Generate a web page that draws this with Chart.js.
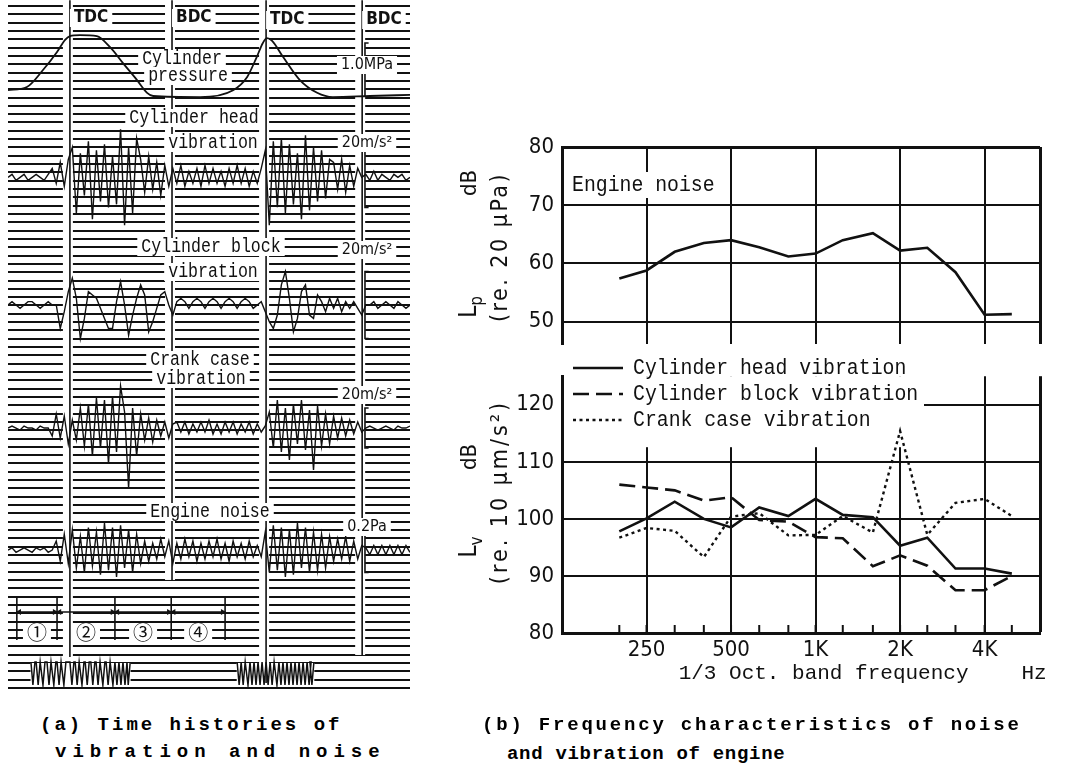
<!DOCTYPE html>
<html>
<head>
<meta charset="utf-8">
<title>Engine noise and vibration</title>
<script src="https://cdn.jsdelivr.net/npm/chart.js@4.4.1/dist/chart.umd.min.js"></script>
<style>
  body { margin: 0; background: #fff; }
  #page { position: relative; width: 1087px; height: 774px; overflow: hidden; background: #fff; }
  canvas { position: absolute; }
  .cap { position: absolute; font-family: "Liberation Mono", "DejaVu Sans Mono", monospace; font-size: 19px; font-weight: bold; line-height: 24px; color: #000; white-space: pre; }
</style>
</head>
<body>
<div id="page">
  <canvas id="history" width="420" height="700" style="left:0px;top:0px"></canvas>
  <canvas id="lp" width="620" height="245" style="left:440px;top:120px"></canvas>
  <canvas id="lv" width="620" height="345" style="left:440px;top:355px"></canvas>
  <div class="cap" style="left:40px;top:713px;letter-spacing:3px">(a) Time histories of</div>
  <div class="cap" style="left:55px;top:740px;letter-spacing:6px">vibration and noise</div>
  <div class="cap" style="left:482px;top:713px;letter-spacing:2.8px">(b) Frequency characteristics of noise</div>
  <div class="cap" style="left:507px;top:742px;letter-spacing:0.7px">and vibration of engine</div>
</div>
<script>
// (b) 1/3 octave band spectra
const bands = [200, 250, 315, 400, 500, 630, 800, 1000, 1250, 1600, 2000, 2500, 3150, 4000, 5000];
const noiseLp = [57.4, 58.8, 62.0, 63.5, 64.0, 62.8, 61.2, 61.7, 64.0, 65.2, 62.2, 62.7, 58.5, 51.2, 51.3];
const headLv = [97.8, 100.1, 103.0, 100.0, 98.5, 102.0, 100.5, 103.5, 100.7, 100.3, 95.3, 96.7, 91.3, 91.3, 90.4];
const blockLv = [106.0, 105.5, 105.0, 103.2, 103.8, 99.8, 99.5, 96.8, 96.6, 91.7, 93.6, 91.8, 87.5, 87.5, 90.0];
const crankLv = [96.7, 98.4, 97.9, 93.3, 100.4, 101.0, 97.1, 97.2, 100.5, 97.6, 115.4, 97.2, 102.8, 103.5, 100.5];
const freqTicks = [250, 500, 1000, 2000, 4000];
const freqTickLabels = ['250', '500', '1K', '2K', '4K'];
const lpTicks = [50, 60, 70, 80];
const lvTicks = [80, 90, 100, 110, 120];

// (a) time histories, sweep 0..100 (one sample per unit for the vibration traces)
const pressT = [0, 4.7, 8.7, 12.2, 14.2, 15.4, 17.9, 22.1, 25.4, 28.6, 32.1, 34.6, 36.1, 47.8, 56.0, 59.5, 61.9, 63.4, 64.4, 65.7, 68.4, 72.6, 76.9, 80.8, 90.0, 100];
const pressMPa = [0.11, 0.17, 0.49, 0.83, 1.06, 1.13, 1.15, 1.13, 0.92, 0.62, 0.30, 0.06, 0.0, -0.02, 0.11, 0.36, 0.74, 1.0, 1.09, 1.04, 0.74, 0.30, 0.06, -0.02, 0.0, 0.02];
const headAcc = [0, 1, -1, 0, 1, -1, 0, 1, 0, -1, 1,
  3, -2, 5, -3, 6,
  10, -12, 8, -6, 12, -14, 9, -8, 11, -10, 7, -9, 16, -16, 10, -12, 13,
  6, -5, 7, -4, 5, -6, 4, -3,
  3, -2, 4, -3, 2, -2, 3, -3, 4, -2, 3, -2, 2, -3, 3, -2, 4, -2, 3, -3, 2, -2, 3,
  9, -16, 12, -10, 13, -12, 11, -9, 8, -14, 14, -11, 10, -8, 9, -7, 6,
  5, -4, 6, -5, 4, -3, 3, 0,
  1, -1, 2, -1, 1, 0, -1, 1, 0, 1, -1, 0];
const blockAcc = [0, 1, 0, -1, 0, 1, 1, 0, -1, 0, 1, 0, 0,
  -7, -2, 4, 8, 2, -10, -4, 4, 3, 2, -1, -4, -7, -7, 1, 7, 0, -9, -3, 2, 6, 3, -8, -5, -1, 3, 4, 0, -3,
  1, 2, 1, -1, 1, 2, 1, -1, 1, 2, 1, -1, 1, 2, 1, -1, 1, 2, 1, -1, 0, 1,
  -2, -5, -7, -3, 6, 10, 2, -8, -4, 4, 6, -3, -4, 3, 1, -2, 2, -1, 2, -2, 1, -1, 1, -1, -3,
  0, 0, 1, -1, 0, 1, 0, -1, 1, 0, -1, 0];
const crankAcc = [0, 1, 0, -1, 1, 0, 0, -1, 1, 0, 0,
  -4, 7, -5, 6, -8, 4, -6,
  10, -9, 12, -14, 15, -10, 14, -18, 16, -12, 21, 8, -30, 10, -14, 7,
  -6, 5, -7, 4, -4, 3, -5, 2,
  3, -2, 3, -3, 2, -2, 3, -2, 4, -3, 2, -3, 3, -2, 3, -3, 2, -2, 3, -3, 2, -2, 1,
  8, -10, 14, -12, 10, -16, 12, -8, 14, -11, 9, -21, 11, -9, 7, -8, 6, -5, 5, -4,
  4, -3, 3, -2,
  0, 1, 0, -1, 0, 1, 0, -1, 1, 0, 0, 1];
const noisePa = [0, 0.01, -0.01, 0, 0.01, 0, -0.01, 0.01, 0, 0.01, -0.01, 0,
  0.04, -0.05, 0.07, -0.06, 0.09, -0.08, 0.06, -0.1, 0.1, -0.07, 0.08, -0.11, 0.12, -0.09, 0.1, -0.12, 0.11, -0.08, 0.09, -0.1, 0.07, -0.06,
  0.04, -0.05, 0.03, -0.04, 0.05, -0.03, 0.04, -0.06, 0.03, -0.04, 0.05, -0.03, 0.04, -0.05, 0.03, -0.04, 0.04, -0.03, 0.05, -0.04, 0.03, -0.05, 0.04, -0.03, 0.03, -0.04, 0.04, -0.03, 0.02, -0.03,
  0.08, -0.1, 0.11, -0.09, 0.1, -0.12, 0.09, -0.11, 0.12, -0.08, 0.1, -0.1, 0.08, -0.09, 0.07, -0.08, 0.06,
  -0.05, 0.05, -0.04, 0.06, -0.05, 0.04, -0.04, 0.02,
  0.01, -0.02, 0.02, -0.02, 0.02, -0.02, 0.02, -0.02, 0.02, -0.02, 0.02, -0.01];
const strokeMarks = [15.4, 40.8, 64.2, 88.1];
const strokeNames = ['TDC', 'BDC', 'TDC', 'BDC'];
const calValues = [1.0, 20, 20, 20, 0.2];
const calLabels = ['1.0MPa', '20m/s²', '20m/s²', '20m/s²', '0.2Pa'];
const phaseEdges = [2.2, 12.2, 26.6, 40.6, 54.0];
const phaseNames = ['①', '②', '③', '④'];
const pulseA = [6.2, 7.5, 8.7, 10.2, 11.4, 12.7, 13.9, 15.9, 17.2, 18.4, 19.7, 21.1, 22.4, 23.6, 24.9, 26.1, 27.1, 28.1, 29.1, 29.9];
const pulseB = [57.5, 58.5, 59.7, 60.7, 61.7, 62.7, 63.7, 64.7, 65.7, 66.9, 67.9, 68.9, 69.9, 70.9, 71.9, 72.9, 73.9, 74.9, 75.6];

const ink = '#111';
const mono = '"Liberation Mono", "DejaVu Sans Mono", monospace';
const narrow = '"Liberation Sans Narrow", "DejaVu Sans Condensed", "Liberation Sans", sans-serif';
Chart.defaults.color = ink;

function drawText(ctx, text, x, y, font, align, sx) {
  ctx.save();
  ctx.font = font;
  ctx.fillStyle = ink;
  ctx.textAlign = align || 'left';
  ctx.textBaseline = 'middle';
  ctx.translate(x, y);
  ctx.scale(sx || 1, 1);
  ctx.fillText(text, 0, 0);
  ctx.restore();
}

function boxText(ctx, text, x, y, font, sx) {
  sx = sx || 1;
  ctx.font = font;
  const w = ctx.measureText(text).width * sx;
  ctx.fillStyle = '#fff';
  ctx.fillRect(x - w / 2 - 4, y - 9, w + 8, 18);
  drawText(ctx, text, x, y, font, 'center', sx);
}

function sideText(ctx, text, x, y, font, spacing) {
  ctx.save();
  ctx.translate(x, y);
  ctx.rotate(-Math.PI / 2);
  ctx.font = font;
  ctx.letterSpacing = spacing || '0px';
  ctx.fillStyle = ink;
  ctx.textAlign = 'center';
  ctx.textBaseline = 'middle';
  ctx.fillText(text, 0, 0);
  ctx.restore();
}

function sideSub(ctx, main, sub, x, y) {
  ctx.save();
  ctx.translate(x, y);
  ctx.rotate(-Math.PI / 2);
  ctx.fillStyle = ink;
  ctx.textBaseline = 'middle';
  ctx.textAlign = 'left';
  ctx.font = '24px ' + narrow;
  const w1 = ctx.measureText(main).width;
  ctx.font = '17px ' + narrow;
  const w2 = ctx.measureText(sub).width;
  const x0 = -(w1 + w2) / 2;
  ctx.font = '24px ' + narrow;
  ctx.fillText(main, x0, 0);
  ctx.font = '17px ' + narrow;
  ctx.fillText(sub, x0 + w1, 8);
  ctx.restore();
}

// ---------- (a) time histories ----------
// trace lanes: baseline row on the ruled paper and rows per unit
const pressBase = 71.18, pressGain = 6.372;
const lanes = [
  {vals: headAcc, base: 61.4, gain: 0.3607},
  {vals: blockAcc, base: 46.05, gain: 0.4028},
  {vals: crankAcc, base: 31.26, gain: 0.2405},
  {vals: noisePa, base: 16.59, gain: 27.05}
];
const markEnds = [3.73, 12.99, 0.6, 3.97];
const calX = 88.8;

const line = (data, extra) => Object.assign({
  data: data, borderColor: ink, borderWidth: 1.4, pointRadius: 0, tension: 0, fill: false
}, extra || {});

const histSets = [];
histSets.push(line(pressT.map((t, i) => ({x: t, y: pressBase + pressMPa[i] * pressGain})),
  {cubicInterpolationMode: 'monotone', borderWidth: 1.8}));
lanes.forEach(l => {
  histSets.push(line(l.vals.map((v, i) => ({x: i, y: l.base + v * l.gain})), {borderWidth: 1.4}));
});
strokeMarks.forEach((m, i) => {
  histSets.push(line([{x: m, y: 82.7}, {x: m, y: markEnds[i]}], {clip: false, borderWidth: 1.6}));
});
// calibration steps
histSets.push(line([
  {x: calX + 0.9, y: pressBase + calValues[0] * pressGain},
  {x: calX, y: pressBase + calValues[0] * pressGain},
  {x: calX, y: pressBase}], {borderWidth: 1.6}));
lanes.forEach((l, i) => {
  const h = calValues[i + 1] / 2 * l.gain;
  histSets.push(line([
    {x: calX + 0.9, y: l.base + h}, {x: calX, y: l.base + h},
    {x: calX, y: l.base - h}, {x: calX + 0.9, y: l.base - h}], {borderWidth: 1.6}));
});
// stroke intervals
phaseEdges.forEach(e => {
  histSets.push(line([{x: e, y: 5.77}, {x: e, y: 10.94}], {borderWidth: 1.6}));
});
phaseNames.forEach((n, i) => {
  histSets.push(line([{x: phaseEdges[i] + 0.6, y: 9.14}, {x: phaseEdges[i + 1] - 0.6, y: 9.14}], {
    borderWidth: 1.4, pointRadius: 3.5, pointStyle: 'triangle', pointRotation: [270, 90],
    pointBackgroundColor: ink, pointBorderWidth: 0
  }));
});
// crank angle marker pulses
const comb = p => {
  const pts = [];
  p.forEach(t => { pts.push({x: t - 0.5, y: 3.13}, {x: t, y: 0.36}, {x: t + 0.5, y: 3.13}); });
  return pts;
};
histSets.push(line(comb(pulseA), {borderWidth: 1.5}));
histSets.push(line(comb(pulseB), {borderWidth: 1.5}));

const histNotes = {
  id: 'histNotes',
  beforeDatasetsDraw(chart) {
    const ctx = chart.ctx;
    const xs = chart.scales.x, ys = chart.scales.y;
    ctx.fillStyle = '#fff';
    // the ruled lines break beside the stroke marker lines
    strokeMarks.forEach((m, i) => {
      const px = xs.getPixelForValue(m);
      ctx.fillRect(px - 7, 0, 10, ys.getPixelForValue(markEnds[i]));
    });
    [pulseA, pulseB].forEach(p => {
      const a = xs.getPixelForValue(p[0] - 0.6), b = xs.getPixelForValue(p[p.length - 1] + 0.6);
      ctx.fillRect(a, 663, b - a, 22);
    });
  },
  afterDatasetsDraw(chart) {
    const ctx = chart.ctx;
    const xs = chart.scales.x;
    const lab = 'bold 17px ' + narrow;
    const tx = '20px ' + mono;
    const sx = 0.83;
    const small = '16px ' + narrow;
    strokeMarks.forEach((m, i) => {
      const px = xs.getPixelForValue(m);
      ctx.font = lab;
      const w = ctx.measureText(strokeNames[i]).width;
      boxText(ctx, strokeNames[i], px + 4 + w / 2, i < 2 ? 18 : 20, lab);
    });
    boxText(ctx, 'Cylinder', 182, 59, tx, sx);
    boxText(ctx, 'pressure', 188, 76, tx, sx);
    boxText(ctx, 'Cylinder head', 194, 118, tx, sx);
    boxText(ctx, 'vibration', 213, 143, tx, sx);
    boxText(ctx, 'Cylinder block', 211, 247, tx, sx);
    boxText(ctx, 'vibration', 213, 272, tx, sx);
    boxText(ctx, 'Crank case', 200, 360, tx, sx);
    boxText(ctx, 'vibration', 201, 379, tx, sx);
    boxText(ctx, 'Engine noise', 210, 512, tx, sx);
    const calY = [65, 143, 250, 395, 527];
    calLabels.forEach((c, i) => boxText(ctx, c, 367, calY[i], small));
    phaseNames.forEach((n, i) => {
      const px = xs.getPixelForValue((phaseEdges[i] + phaseEdges[i + 1]) / 2);
      boxText(ctx, n, px, 632, '20px "Noto Sans CJK JP", sans-serif');
    });
  }
};

new Chart(document.getElementById('history'), {
  type: 'line',
  data: {datasets: histSets},
  options: {
    responsive: false,
    animation: false,
    events: [],
    layout: {padding: {left: 8, right: 10, top: 6, bottom: 12}},
    plugins: {legend: {display: false}, tooltip: {enabled: false}},
    scales: {
      x: {type: 'linear', min: 0, max: 100, display: false},
      y: {
        type: 'linear', min: 0, max: 82,
        afterBuildTicks: a => { a.ticks = Array.from({length: 83}, (_, k) => ({value: k})); },
        afterFit: a => { a.width = 0; },
        ticks: {display: false},
        grid: {color: ink, lineWidth: 1.9, drawTicks: false},
        border: {display: false}
      }
    }
  },
  plugins: [histNotes]
});

// ---------- (b) spectra ----------
const edgeHz = 6300;
const gridW = c => (c.tick && (c.tick.value === edgeHz || c.tick.value === 80) ? 3 : 2);
const tickFont = {family: narrow, size: 22};
const label = '22px ' + mono;

const lpNotes = {
  id: 'lpNotes',
  beforeDatasetsDraw(chart) {
    chart.ctx.fillStyle = '#fff';
    chart.ctx.fillRect(128, 52, 156, 26);
  },
  afterDatasetsDraw(chart) {
    const ctx = chart.ctx;
    drawText(ctx, 'Engine noise', 132, 65, label, 'left', 0.9);
    sideText(ctx, 'dB', 30, 63, '22px ' + narrow);
    sideText(ctx, '(re. 20 μPa)', 61, 127, '23px ' + narrow, '2.5px');
    sideSub(ctx, 'L', 'p', 30, 187);
  }
};

new Chart(document.getElementById('lp'), {
  type: 'line',
  data: {
    datasets: [{
      label: 'Engine noise',
      data: bands.map((f, i) => ({x: f, y: noiseLp[i]})),
      borderColor: ink, borderWidth: 2.6, pointRadius: 0, tension: 0
    }]
  },
  options: {
    responsive: false,
    animation: false,
    events: [],
    layout: {padding: {top: 27, right: 20, bottom: 12, left: 0}},
    plugins: {legend: {display: false}, tooltip: {enabled: false}},
    scales: {
      x: {
        type: 'logarithmic', min: 125, max: edgeHz,
        afterBuildTicks: a => { a.ticks = freqTicks.concat([edgeHz]).map(v => ({value: v})); },
        afterFit: a => { a.height = 0; },
        ticks: {display: false},
        grid: {color: ink, lineWidth: gridW, drawTicks: false},
        border: {display: false}
      },
      y: {
        min: 46.2, max: 80,
        afterBuildTicks: a => { a.ticks = lpTicks.map(v => ({value: v})); },
        afterFit: a => { a.width = 122; },
        ticks: {font: tickFont, color: ink, padding: 8},
        grid: {color: ink, lineWidth: gridW, drawTicks: false},
        border: {color: ink, width: 3}
      }
    }
  },
  plugins: [lpNotes]
});

const lvNotes = {
  id: 'lvNotes',
  beforeDatasetsDraw(chart) {
    const a = chart.chartArea;
    chart.ctx.fillStyle = '#fff';
    chart.ctx.fillRect(a.left + 2, a.top, 482 - a.left, 71);
  },
  afterDatasetsDraw(chart) {
    const ctx = chart.ctx;
    const a = chart.chartArea;
    const xs = chart.scales.x;
    ctx.save();
    ctx.strokeStyle = ink;
    ctx.lineWidth = 2;
    bands.forEach(f => {
      const px = xs.getPixelForValue(f);
      ctx.beginPath();
      ctx.moveTo(px, a.bottom);
      ctx.lineTo(px, a.bottom - 8);
      ctx.stroke();
    });
    chart.data.datasets.forEach((d, i) => {
      const y = 13 + i * 26;
      ctx.lineWidth = d.borderWidth;
      ctx.setLineDash(d.borderDash || []);
      ctx.beginPath();
      ctx.moveTo(133, y);
      ctx.lineTo(183, y);
      ctx.stroke();
      ctx.setLineDash([]);
      drawText(ctx, d.label, 193, y, label, 'left', 0.9);
    });
    ctx.restore();
    drawText(ctx, '1/3 Oct. band frequency', xs.getPixelForValue(1000) + 8, 318, '21px ' + mono, 'center', 1);
    drawText(ctx, 'Hz', 594, 318, '21px ' + mono, 'center', 1);
    sideText(ctx, 'dB', 30, 102, '22px ' + narrow);
    sideText(ctx, '(re. 10 μm/s²)', 61, 137, '23px ' + narrow, '3px');
    sideSub(ctx, 'L', 'v', 30, 192);
  }
};

new Chart(document.getElementById('lv'), {
  type: 'line',
  data: {
    datasets: [
      {label: 'Cylinder head vibration', data: bands.map((f, i) => ({x: f, y: headLv[i]})),
        borderColor: ink, borderWidth: 2.6, pointRadius: 0, tension: 0},
      {label: 'Cylinder block vibration', data: bands.map((f, i) => ({x: f, y: blockLv[i]})),
        borderColor: ink, borderWidth: 2.6, borderDash: [16, 7], pointRadius: 0, tension: 0},
      {label: 'Crank case vibration', data: bands.map((f, i) => ({x: f, y: crankLv[i]})),
        borderColor: ink, borderWidth: 2.4, borderDash: [3, 3.5], pointRadius: 0, tension: 0}
    ]
  },
  options: {
    responsive: false,
    animation: false,
    events: [],
    layout: {padding: {top: 7, right: 20, bottom: 0, left: 0}},
    plugins: {legend: {display: false}, tooltip: {enabled: false}},
    scales: {
      x: {
        type: 'logarithmic', min: 125, max: edgeHz,
        afterBuildTicks: a => { a.ticks = freqTicks.concat([edgeHz]).map(v => ({value: v})); },
        afterFit: a => { a.height = 67; },
        ticks: {
          font: tickFont, color: ink, padding: 4, autoSkip: false, maxRotation: 0,
          callback: v => { const k = freqTicks.indexOf(v); return k < 0 ? '' : freqTickLabels[k]; }
        },
        grid: {color: ink, lineWidth: gridW, drawTicks: false},
        border: {color: ink, width: 3}
      },
      y: {
        min: 80, max: 125,
        afterBuildTicks: a => { a.ticks = lvTicks.map(v => ({value: v})); },
        afterFit: a => { a.width = 122; },
        ticks: {font: tickFont, color: ink, padding: 8},
        grid: {color: ink, lineWidth: 2, drawTicks: false},
        border: {color: ink, width: 3}
      }
    }
  },
  plugins: [lvNotes]
});
</script>
</body>
</html>
